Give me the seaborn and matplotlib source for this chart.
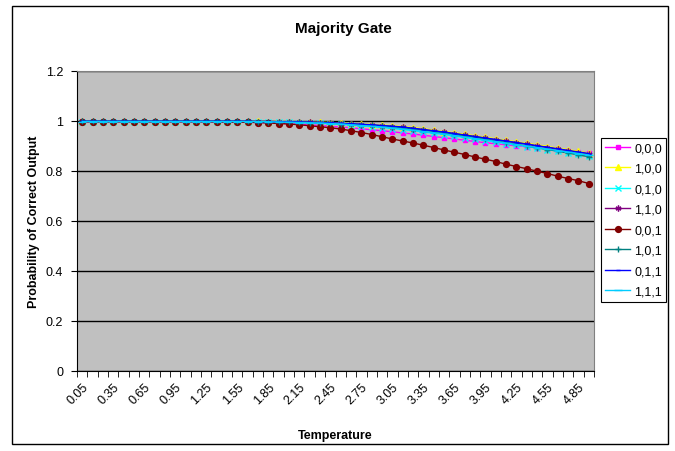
import numpy as np
import pandas as pd
import matplotlib
matplotlib.use("Agg")
import matplotlib.pyplot as plt
import seaborn as sns
from matplotlib.patches import Rectangle

# temperature categories 0.05 .. 4.95
temps = ["%.2f" % (0.05 + 0.1 * i) for i in range(50)]

p000 = [0.997, 0.997, 0.997, 0.997, 0.997, 0.997, 0.997, 0.997, 0.997, 0.997,
        0.997, 0.997, 0.997, 0.997, 0.996, 0.996, 0.995, 0.994, 0.993, 0.991,
        0.989, 0.987, 0.985, 0.982, 0.979, 0.976, 0.973, 0.969, 0.965, 0.961,
        0.957, 0.952, 0.948, 0.943, 0.938, 0.933, 0.928, 0.923, 0.918, 0.913,
        0.909, 0.905, 0.901, 0.897, 0.893, 0.889, 0.885, 0.881, 0.877, 0.873]
p100 = [0.999, 0.999, 0.999, 0.999, 0.999, 0.999, 0.999, 0.999, 0.999, 0.999,
        0.999, 0.999, 0.999, 0.999, 0.999, 0.999, 0.999, 0.999, 0.998, 0.998,
        0.997, 0.997, 0.996, 0.995, 0.994, 0.992, 0.990, 0.988, 0.986, 0.984,
        0.981, 0.978, 0.974, 0.969, 0.964, 0.958, 0.953, 0.947, 0.941, 0.935,
        0.929, 0.923, 0.917, 0.911, 0.905, 0.898, 0.892, 0.885, 0.879, 0.872]
p010 = [0.998, 0.998, 0.998, 0.998, 0.998, 0.998, 0.998, 0.998, 0.998, 0.998,
        0.998, 0.998, 0.998, 0.998, 0.998, 0.998, 0.998, 0.997, 0.997, 0.996,
        0.995, 0.994, 0.993, 0.991, 0.989, 0.987, 0.984, 0.981, 0.978, 0.974,
        0.970, 0.966, 0.961, 0.956, 0.951, 0.946, 0.940, 0.934, 0.928, 0.922,
        0.916, 0.910, 0.904, 0.898, 0.892, 0.886, 0.880, 0.874, 0.868, 0.862]
p110 = [0.999, 0.999, 0.999, 0.999, 0.999, 0.999, 0.999, 0.999, 0.999, 0.999,
        0.999, 0.999, 0.999, 0.999, 0.999, 0.999, 0.999, 0.998, 0.998, 0.997,
        0.996, 0.996, 0.995, 0.994, 0.992, 0.990, 0.988, 0.986, 0.984, 0.981,
        0.978, 0.975, 0.970, 0.965, 0.960, 0.955, 0.949, 0.943, 0.937, 0.931,
        0.925, 0.919, 0.913, 0.907, 0.900, 0.894, 0.887, 0.881, 0.874, 0.868]
p001 = [0.997, 0.997, 0.997, 0.997, 0.997, 0.997, 0.997, 0.997, 0.997, 0.997,
        0.997, 0.997, 0.997, 0.996, 0.996, 0.995, 0.995, 0.994, 0.992, 0.990,
        0.988, 0.985, 0.981, 0.977, 0.973, 0.968, 0.961, 0.954, 0.946, 0.937,
        0.928, 0.920, 0.912, 0.903, 0.894, 0.884, 0.875, 0.866, 0.856, 0.847,
        0.838, 0.827, 0.818, 0.809, 0.799, 0.790, 0.779, 0.770, 0.761, 0.750]
p101 = [0.999, 0.999, 0.999, 0.999, 0.999, 0.999, 0.999, 0.999, 0.999, 0.999,
        0.999, 0.999, 0.999, 0.999, 0.999, 0.999, 0.999, 0.998, 0.998, 0.997,
        0.996, 0.995, 0.994, 0.993, 0.991, 0.989, 0.987, 0.985, 0.983, 0.980,
        0.977, 0.973, 0.968, 0.963, 0.958, 0.952, 0.946, 0.940, 0.934, 0.928,
        0.921, 0.914, 0.907, 0.900, 0.893, 0.886, 0.879, 0.872, 0.864, 0.857]
p011 = [0.999, 0.999, 0.999, 0.999, 0.999, 0.999, 0.999, 0.999, 0.999, 0.999,
        0.999, 0.999, 0.999, 0.999, 0.999, 0.999, 0.999, 0.998, 0.998, 0.997,
        0.997, 0.996, 0.995, 0.994, 0.993, 0.991, 0.989, 0.987, 0.985, 0.982,
        0.979, 0.976, 0.971, 0.966, 0.961, 0.956, 0.950, 0.944, 0.938, 0.932,
        0.926, 0.920, 0.914, 0.908, 0.901, 0.895, 0.889, 0.882, 0.876, 0.870]
p111 = [0.998, 0.998, 0.998, 0.998, 0.998, 0.998, 0.998, 0.998, 0.998, 0.998,
        0.998, 0.998, 0.998, 0.998, 0.998, 0.998, 0.998, 0.998, 0.997, 0.996,
        0.995, 0.994, 0.993, 0.992, 0.990, 0.988, 0.985, 0.982, 0.979, 0.976,
        0.972, 0.968, 0.963, 0.958, 0.953, 0.948, 0.942, 0.936, 0.930, 0.924,
        0.918, 0.912, 0.906, 0.900, 0.894, 0.888, 0.882, 0.876, 0.870, 0.864]

labels = ["0,0,0", "1,0,0", "0,1,0", "1,1,0", "0,0,1", "1,0,1", "0,1,1", "1,1,1"]
values = [p000, p100, p010, p110, p001, p101, p011, p111]
colors = ["#FF00FF", "#FFFF00", "#00FFFF", "#800080", "#800000", "#008080", "#0000FF", "#00CCFF"]
markers = ["s", "^", "x", (6, 2, 0), "o", "+", "_", "_"]
msizes = [3.4, 3.8, 3.8, 4.2, 4.2, 4.8, 3.5, 6]

plt.rcParams['font.family'] = ['Liberation Sans', 'DejaVu Sans']

fig = plt.figure(figsize=(6.75, 4.52), dpi=100)
ax = fig.add_axes([77 / 675, 80 / 452, 517 / 675, 300 / 452])
fig.patches.append(Rectangle((12 / 675, 7 / 452), 656 / 675, 438 / 452, transform=fig.transFigure,
                             fill=False, edgecolor="black", linewidth=1))

xs = np.arange(len(temps))
for lab, v, c, m, s in zip(labels, values, colors, markers, msizes):
    sns.lineplot(x=xs, y=v, ax=ax, color=c, marker=m, markersize=s, markeredgecolor=c,
                 markeredgewidth=1, linewidth=1.0, label=lab)

ax.set_facecolor("#C0C0C0")
ax.set_xlim(-0.5, len(temps) - 0.5)
ax.set_ylim(0, 1.2)
ax.set_yticks([0, 0.2, 0.4, 0.6, 0.8, 1.0, 1.2])
ax.set_yticklabels(["0", "0.2", "0.4", "0.6", "0.8", "1", "1.2"], fontsize=9)
ax.yaxis.grid(True, color="black", linewidth=1)
ax.xaxis.grid(False)
ax.set_axisbelow(True)

ax.set_xticks(xs[::3])
ax.set_xticklabels(temps[::3], rotation=45, ha="right", rotation_mode="anchor", fontsize=9)
ax.set_xticks(np.arange(-0.5, len(temps), 1), minor=True)
ax.tick_params(axis="x", which="major", length=0, pad=7)
ax.tick_params(axis="x", which="minor", length=4, color="black", direction="out")
ax.tick_params(axis="y", length=4, color="black", direction="out", pad=6)

for side in ["top", "right"]:
    ax.spines[side].set_color("#808080")
for side in ["left", "bottom"]:
    ax.spines[side].set_color("black")

ax.set_xlabel("Temperature", fontsize=9, fontweight="bold", labelpad=16)
ax.set_ylabel("Probability of Correct Output", fontsize=9, fontweight="bold", labelpad=4)
fig.text(0.508, 1 - 29 / 452, "Majority Gate", ha="center", va="center", fontsize=11, fontweight="bold")

leg = ax.legend(loc="center left", bbox_to_anchor=(601 / 675, 231 / 452), bbox_transform=fig.transFigure,
                fontsize=9, frameon=True, fancybox=False, edgecolor="black", framealpha=1,
                handlelength=2.0, labelspacing=0.68, borderpad=0.35, handletextpad=0.3,
                borderaxespad=0)
leg.get_frame().set_linewidth(0.8)

fig.savefig("out.png", dpi=100)
